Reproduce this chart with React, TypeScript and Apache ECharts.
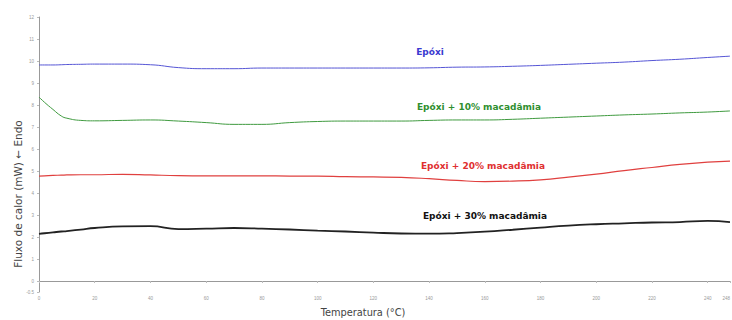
import React, { useEffect, useRef } from "react";
import * as echarts from "echarts";

const temperatures = [0, 2, 5, 8, 10, 15, 20, 30, 40, 50, 60, 70, 80, 90, 100, 110, 120, 130, 140, 150, 160, 170, 180, 190, 200, 210, 220, 230, 240, 248];

const epoxi = [9.82, 9.82, 9.82, 9.83, 9.84, 9.85, 9.86, 9.86, 9.83, 9.7, 9.65, 9.65, 9.68, 9.68, 9.68, 9.68, 9.68, 9.68, 9.69, 9.72, 9.73, 9.76, 9.8, 9.85, 9.9, 9.95, 10.02, 10.08, 10.16, 10.22];
const mac10 = [8.36, 8.12, 7.8, 7.5, 7.4, 7.3, 7.28, 7.3, 7.32, 7.27, 7.2, 7.12, 7.12, 7.2, 7.25, 7.27, 7.27, 7.27, 7.3, 7.32, 7.32, 7.35, 7.4, 7.45, 7.5, 7.55, 7.59, 7.64, 7.68, 7.73];
const mac20 = [4.77, 4.78, 4.8, 4.81, 4.82, 4.83, 4.83, 4.85, 4.82, 4.79, 4.78, 4.78, 4.78, 4.77, 4.77, 4.74, 4.73, 4.71, 4.65, 4.57, 4.52, 4.54, 4.6, 4.72, 4.86, 5.02, 5.16, 5.3, 5.4, 5.45];
const mac30 = [2.14, 2.17, 2.21, 2.25, 2.27, 2.34, 2.41, 2.48, 2.49, 2.36, 2.38, 2.41, 2.38, 2.34, 2.29, 2.25, 2.2, 2.16, 2.15, 2.18, 2.24, 2.33, 2.43, 2.52, 2.58, 2.62, 2.66, 2.68, 2.73, 2.68];

const seriesNames = ["Epóxi", "Epóxi + 10% macadâmia", "Epóxi + 20% macadâmia", "Epóxi + 30% macadâmia"];
const xTitle = "Temperatura (°C)";
const yTitle = "Fluxo de calor (mW) ← Endo";
const xTicks = [0, 20, 40, 60, 80, 100, 120, 140, 160, 180, 200, 220, 240, 248];
const yTicks = [-0.5, 0, 1, 2, 3, 4, 5, 6, 7, 8, 9, 10, 11, 12];

export default function App() {
  const ref = useRef<HTMLDivElement>(null);
  useEffect(() => {
    if (!ref.current) return;
    const chart = echarts.init(ref.current, null, { renderer: "svg" });
    const pair = (arr: number[]) => temperatures.map((t, i) => [t, arr[i]]);
    const mk = (name: string, data: number[], color: string, width: number) => ({
      name,
      type: "line",
      data: pair(data),
      smooth: true,
      showSymbol: false,
      lineStyle: { color, width },
      itemStyle: { color },
    });
    const label = (text: string, x: number, y: number, color: string) => ({
      type: "text",
      x,
      y,
      style: {
        text,
        fill: color,
        font: "bold 9px 'DejaVu Sans'",
        textAlign: "center",
        textVerticalAlign: "middle",
      },
    });
    chart.setOption({
      animation: false,
      backgroundColor: "#ffffff",
      grid: { left: 39, right: 2, top: 17, bottom: 28, outerBoundsMode: "none", containLabel: false },
      xAxis: {
        type: "value",
        min: 0,
        max: 248,
        axisLine: { show: true, lineStyle: { color: "#999", width: 1 } },
        axisTick: { show: true, length: 2, customValues: xTicks, lineStyle: { color: "#bbb" } },
        axisLabel: { customValues: xTicks, fontSize: 4.5, color: "#999", margin: 4, alignMaxLabel: "right" },
        splitLine: { show: false },
      },
      yAxis: {
        type: "value",
        min: -0.5,
        max: 12,
        axisLine: { show: true, lineStyle: { color: "#999", width: 1 } },
        axisTick: { show: true, length: 2, customValues: yTicks, lineStyle: { color: "#bbb" } },
        axisLabel: { customValues: yTicks, fontSize: 4.5, color: "#999", margin: 5 },
        splitLine: { show: false },
      },
      series: [
        mk(seriesNames[0], epoxi, "#5555d5", 1),
        mk(seriesNames[1], mac10, "#3f9a3f", 1),
        mk(seriesNames[2], mac20, "#e0403f", 1.2),
        mk(seriesNames[3], mac30, "#222222", 1.8),
      ],
      graphic: [
        label(seriesNames[0], 430, 52, "#3a3ad0"),
        label(seriesNames[1], 479, 107, "#2f8f2f"),
        label(seriesNames[2], 483, 166, "#e03030"),
        label(seriesNames[3], 485, 216, "#111111"),
        {
          type: "text",
          x: 363,
          y: 312,
          style: {
            text: xTitle,
            fill: "#444",
            font: "9.8px 'DejaVu Sans'",
            textAlign: "center",
            textVerticalAlign: "middle",
          },
        },
        {
          type: "text",
          x: 18,
          y: 194,
          rotation: Math.PI / 2,
          style: {
            text: yTitle,
            fill: "#444",
            font: "10.5px 'DejaVu Sans'",
            textAlign: "center",
            textVerticalAlign: "middle",
          },
        },
      ],
    });
    return () => chart.dispose();
  }, []);
  return <div ref={ref} style={{ width: 732, height: 320, position: "absolute", left: 0, top: 0 }} />;
}
